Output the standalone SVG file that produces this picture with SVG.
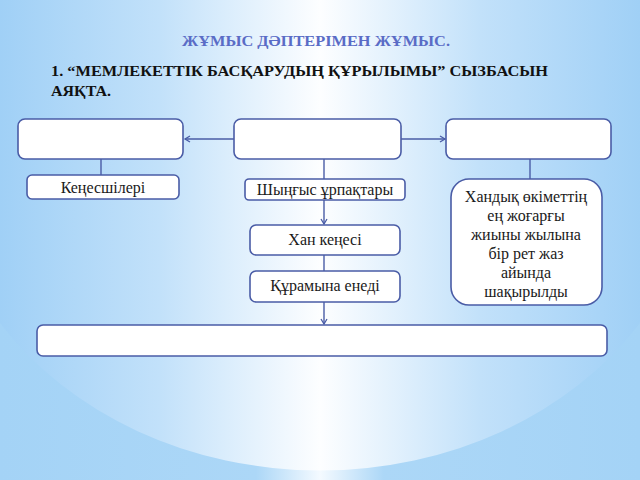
<svg xmlns="http://www.w3.org/2000/svg" width="640" height="480" viewBox="0 0 640 480">
<defs>
<linearGradient id="bg" x1="0" y1="0" x2="1" y2="0">
<stop offset="0" stop-color="#a0d0f6"/>
<stop offset="0.25" stop-color="#c2e1fa"/>
<stop offset="0.5" stop-color="#fdfeff"/>
<stop offset="0.75" stop-color="#c2e1fa"/>
<stop offset="1" stop-color="#a0d0f6"/>
</linearGradient>
<linearGradient id="bg2" x1="0" y1="0" x2="1" y2="0">
<stop offset="0" stop-color="#a4d3f6"/>
<stop offset="0.4" stop-color="#acd7f7"/>
<stop offset="0.5" stop-color="#f4faff"/>
<stop offset="0.6" stop-color="#acd7f7"/>
<stop offset="1" stop-color="#a4d3f6"/>
</linearGradient>
<marker id="arr" markerWidth="8" markerHeight="8" refX="6" refY="4" orient="auto" markerUnits="userSpaceOnUse">
<path d="M1,1 L6,4 L1,7" fill="none" stroke="#4a5ca6" stroke-width="1.3"/>
</marker>
<style>
.box{fill:#ffffff;stroke:#4a5ca6;stroke-width:1.6}
.con{fill:none;stroke:#4a5ca6;stroke-width:1.4}
.t{font-size:16px;fill:#1a1a1a;text-anchor:middle}
.h{font-weight:bold;font-size:14px}
</style>
</defs>
<rect x="0" y="0" width="640" height="480" fill="url(#bg)"/>
<path d="M0,323 A380,320 0 0 0 640,323 L640,480 L0,480 Z" fill="url(#bg2)"/>

<g font-family="'Liberation Serif', 'DejaVu Serif', serif">
<text class="h" x="182" y="46" fill="#5a6cc6" textLength="268" lengthAdjust="spacingAndGlyphs">ЖҰМЫС ДӘПТЕРІМЕН ЖҰМЫС.</text>
<text class="h" x="51" y="76" fill="#111111" textLength="497" lengthAdjust="spacingAndGlyphs">1. “МЕМЛЕКЕТТІК БАСҚАРУДЫҢ  ҚҰРЫЛЫМЫ” СЫЗБАСЫН</text>
<text class="h" x="51" y="96" fill="#111111" textLength="60" lengthAdjust="spacingAndGlyphs">АЯҚТА.</text>

<g id="connectors">
<line class="con" x1="234" y1="139" x2="185" y2="139" marker-end="url(#arr)"/>
<line class="con" x1="401" y1="139" x2="445" y2="139" marker-end="url(#arr)"/>
<line class="con" x1="101" y1="159" x2="101" y2="175"/>
<line class="con" x1="324" y1="159" x2="324" y2="179"/>
<line class="con" x1="324" y1="200" x2="324" y2="224" marker-end="url(#arr)"/>
<line class="con" x1="324" y1="255" x2="324" y2="271"/>
<line class="con" x1="324" y1="302" x2="324" y2="324" marker-end="url(#arr)"/>
<line class="con" x1="530" y1="159" x2="530" y2="179"/>
</g>

<g id="n-left"><rect class="box" x="18" y="119" width="165" height="40" rx="7"/></g>
<g id="n-mid"><rect class="box" x="234" y="119" width="167" height="40" rx="7"/></g>
<g id="n-right"><rect class="box" x="446" y="119" width="165" height="40" rx="7"/></g>

<g id="n-kenesshileri"><rect class="box" x="27" y="175" width="152" height="24" rx="5"/><text class="t" x="103" y="193">Кеңесшілері</text></g>
<g id="n-shyngys"><rect class="box" x="245" y="179" width="160" height="21" rx="4"/><text class="t" x="325" y="195">Шыңғыс ұрпақтары</text></g>
<g id="n-khan"><rect class="box" x="250" y="225" width="150" height="30" rx="6"/><text class="t" x="325" y="245">Хан кеңесі</text></g>
<g id="n-quramyna"><rect class="box" x="250" y="271" width="150" height="31" rx="6"/><text class="t" x="325" y="291">Құрамына енеді</text></g>
<g id="n-khandyq"><rect class="box" x="451" y="179" width="151" height="126" rx="18"/>
<text class="t" x="526" y="202">Хандық өкіметтің</text>
<text class="t" x="526" y="221">ең жоғарғы</text>
<text class="t" x="526" y="240">жиыны жылына</text>
<text class="t" x="526" y="259">бір рет жаз</text>
<text class="t" x="526" y="278">айында</text>
<text class="t" x="526" y="297">шақырылды</text>
</g>
<g id="n-bottom"><rect class="box" x="37" y="325" width="570" height="31" rx="6"/></g>
</g>
</svg>
